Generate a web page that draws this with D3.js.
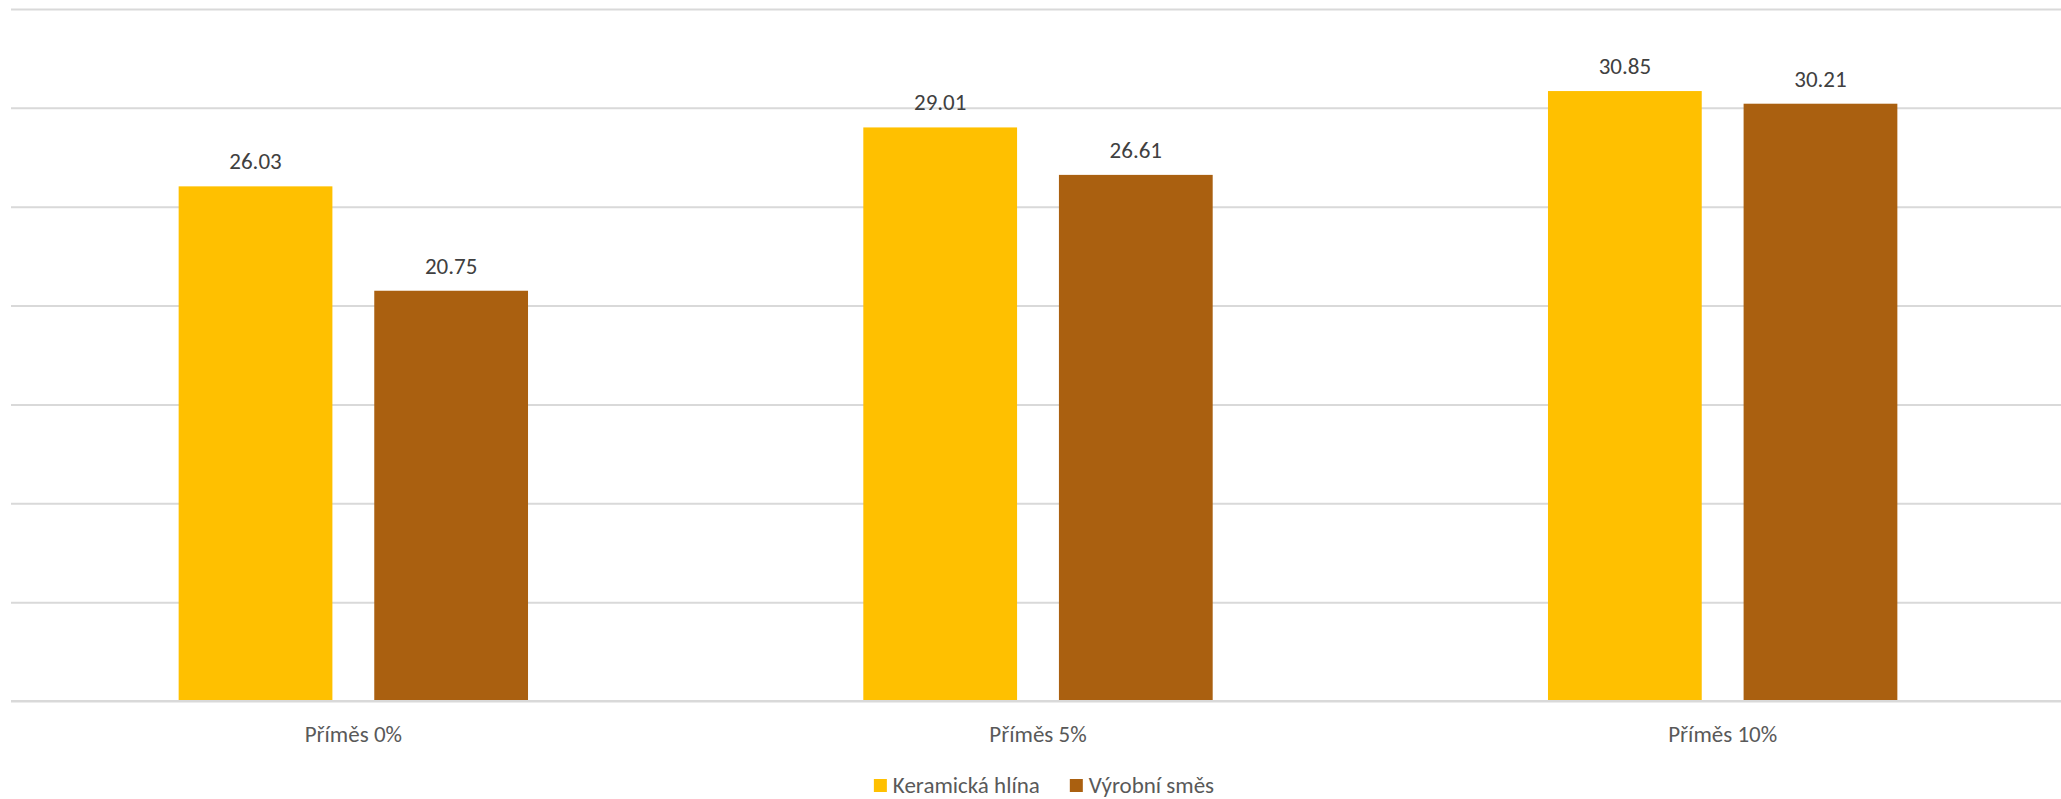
<!DOCTYPE html>
<html>
<head>
<meta charset="utf-8">
<script src="https://cdn.jsdelivr.net/npm/d3@7"></script>
<style>
  html, body { margin: 0; padding: 0; background: #ffffff; }
  svg { display: block; font-family: Calibri, Carlito, Lato, sans-serif; }
</style>
</head>
<body>
<svg id="chart" width="2061" height="799"></svg>
<script>
// Categories, series and values
const categories = ["Příměs 0%", "Příměs 5%", "Příměs 10%"];
const seriesNames = ["Keramická hlína", "Výrobní směs"];
const keramickaHlina = [26.03, 29.01, 30.85];
const vyrobniSmes = [20.75, 26.61, 30.21];
const yTicks = [0, 5, 10, 15, 20, 25, 30, 35];
const seriesColors = ["#FFC000", "#AA6010"];

const seriesValues = [keramickaHlina, vyrobniSmes];

const width = 2061, height = 799;
const plot = { left: 11, right: 2065, top: 9, bottom: 701 };
const fontSize = 23;

const svg = d3.select("#chart");

const x0 = d3.scaleBand()
  .domain(categories)
  .range([plot.left, plot.right])
  .paddingInner(0)
  .paddingOuter(0);

const x1 = d3.scaleBand()
  .domain(seriesNames)
  .range([0, x0.bandwidth()])
  .paddingInner(0.214)
  .paddingOuter(0.857);

const y = d3.scaleLinear()
  .domain([0, 35])
  .range([plot.bottom, plot.top]);

const color = d3.scaleOrdinal().domain(seriesNames).range(seriesColors);

// Horizontal gridlines (no tick labels)
const grid = d3.axisLeft(y)
  .tickValues(yTicks)
  .tickSize(-(plot.right - plot.left))
  .tickFormat("");
svg.append("g")
  .attr("transform", `translate(${plot.left},0)`)
  .call(grid)
  .call(g => g.select(".domain").remove())
  .call(g => g.selectAll(".tick line")
    .attr("stroke", "#d9d9d9")
    .attr("stroke-width", 2));

// Flattened records for bars and labels
const records = [];
categories.forEach((c, i) => {
  seriesNames.forEach((s, j) => {
    records.push({ category: c, series: s, value: seriesValues[j][i] });
  });
});

const groups = svg.append("g");

groups.selectAll("rect.bar")
  .data(records)
  .join("rect")
  .attr("class", "bar")
  .attr("x", d => x0(d.category) + x1(d.series))
  .attr("width", x1.bandwidth())
  .attr("y", d => y(d.value))
  .attr("height", d => y(0) - y(d.value))
  .attr("fill", d => color(d.series));

// Value labels above bars
groups.selectAll("text.value")
  .data(records)
  .join("text")
  .attr("class", "value")
  .attr("x", d => x0(d.category) + x1(d.series) + x1.bandwidth() / 2)
  .attr("y", d => y(d.value) - 17)
  .attr("text-anchor", "middle")
  .attr("font-size", fontSize)
  .attr("fill", "#404040")
  .text(d => d.value.toFixed(2));

// Baseline redrawn over bars' bottom edge
svg.append("line")
  .attr("x1", plot.left).attr("x2", plot.right)
  .attr("y1", y(0)).attr("y2", y(0))
  .attr("stroke", "#d9d9d9")
  .attr("stroke-width", 2);

// Category axis labels
const xAxis = d3.axisBottom(x0).tickSize(0).tickPadding(0);
svg.append("g")
  .attr("transform", `translate(0,${plot.bottom})`)
  .call(xAxis)
  .call(g => g.select(".domain").remove())
  .call(g => g.selectAll(".tick text")
    .attr("y", 41)
    .attr("dy", null)
    .attr("font-family", "Calibri, Carlito, Lato, sans-serif")
    .attr("font-size", fontSize)
    .attr("fill", "#595959"));

// Legend, centred under the plot
const legend = svg.append("g");
const items = legend.selectAll("g.item")
  .data(seriesNames)
  .join("g")
  .attr("class", "item");
items.append("rect")
  .attr("width", 13).attr("height", 13)
  .attr("y", -14)
  .attr("fill", d => color(d));
items.append("text")
  .attr("x", 19)
  .attr("y", 0)
  .attr("font-size", fontSize)
  .attr("fill", "#595959")
  .text(d => d);

const gapBetween = 30;
const widths = [];
items.each(function () {
  widths.push(19 + this.querySelector("text").getComputedTextLength());
});
const total = d3.sum(widths) + gapBetween * (widths.length - 1);
const startX = (plot.left + width) / 2 - total / 2 + 8;
items.attr("transform", (d, i) => {
  const xPos = startX + d3.sum(widths.slice(0, i)) + gapBetween * i;
  return `translate(${xPos},793)`;
});
</script>
</body>
</html>
